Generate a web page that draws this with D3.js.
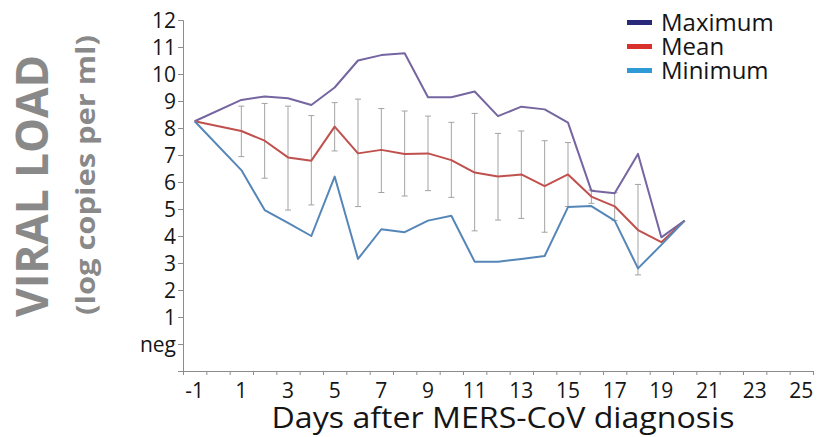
<!DOCTYPE html>
<html>
<head>
<meta charset="utf-8">
<script src="https://cdn.jsdelivr.net/npm/d3@7"></script>
<style>
  body { margin: 0; background: #fff; }
  text { font-family: "Open Sans", sans-serif; }
</style>
</head>
<body>
<svg class="chart"></svg>
<script>
// days after diagnosis (no measurement on day 0)
var days = [-1, 1, 2, 3, 4, 5, 6, 7, 8, 9, 10, 11, 12, 13, 14, 15, 16, 17, 18, 19, 20];
var maxValues  = [8.25, 9.04, 9.17, 9.1, 8.85, 9.5, 10.5, 10.7, 10.77, 9.14, 9.14, 9.35, 8.44, 8.79, 8.69, 8.2, 5.68, 5.58, 7.04, 3.95, 4.57];
var meanValues = [8.25, 7.89, 7.53, 6.91, 6.79, 8.05, 7.06, 7.19, 7.04, 7.06, 6.81, 6.35, 6.2, 6.28, 5.85, 6.28, 5.46, 5.1, 4.22, 3.77, 4.57];
var minValues  = [8.25, 6.44, 4.96, 4.49, 4.0, 6.2, 3.15, 4.25, 4.14, 4.57, 4.75, 3.05, 3.05, 3.15, 3.26, 5.07, 5.11, 4.57, 2.8, 3.67, 4.57];

// error bars (days 1-18)
var errDays = [1, 2, 3, 4, 5, 6, 7, 8, 9, 10, 11, 12, 13, 14, 15, 16, 17, 18];
var errHigh = [8.81, 8.91, 8.81, 8.46, 8.94, 9.07, 8.72, 8.63, 8.44, 8.21, 8.54, 7.8, 7.89, 7.53, 7.46, 5.7, 5.6, 5.91];
var errLow  = [6.94, 6.14, 4.96, 5.15, 7.15, 5.09, 5.61, 5.48, 5.68, 5.43, 4.19, 4.59, 4.65, 4.14, 5.09, 5.21, 4.57, 2.56];

var xTickLabels = [-1, 1, 3, 5, 7, 9, 11, 13, 15, 17, 19, 21, 23, 25];
var yTickLabels = ["neg", "1", "2", "3", "4", "5", "6", "7", "8", "9", "10", "11", "12"];
var seriesNames = ["Maximum", "Mean", "Minimum"];
var lineColors = ["#7565a0", "#c0504d", "#5586b8"];
var legendColors = ["#2a2878", "#d8302c", "#2f9ad8"];

var width = 817, height = 437;
var svg = d3.select(".chart").attr("width", width).attr("height", height);

var x = d3.scaleLinear().domain([-1.5, 25.5]).range([183, 813]);
var y = d3.scaleLinear().domain([-1, 12]).range([371, 20]);

var axisColor = "#8c8c8c";

// x axis (category boundaries as ticks)
var xAxis = svg.append("g").attr("transform", "translate(0," + y(-1) + ")")
  .call(d3.axisBottom(x).tickValues(d3.range(-1.5, 26, 1)).tickSize(4).tickFormat(""));
xAxis.select(".domain").attr("stroke", axisColor);
xAxis.selectAll(".tick line").attr("stroke", axisColor);

svg.append("g").selectAll("text")
  .data(xTickLabels)
  .enter().append("text")
  .attr("x", function(d) { return x(d); })
  .attr("y", y(-1) + 27)
  .style("text-anchor", "middle")
  .style("font-size", "21px")
  .attr("fill", "#151515")
  .text(function(d) { return d; });

// y axis
var yAxis = svg.append("g").attr("transform", "translate(" + x(-1.5) + ",0)")
  .call(d3.axisLeft(y).tickValues(d3.range(-1, 13)).tickSize(5).tickFormat(""));
yAxis.select(".domain").attr("stroke", axisColor);
yAxis.selectAll(".tick line").attr("stroke", axisColor);

svg.append("g").selectAll("text")
  .data(yTickLabels)
  .enter().append("text")
  .attr("x", 176)
  .attr("y", function(d, i) { return y(i); })
  .attr("dy", "0.36em")
  .style("text-anchor", "end")
  .style("font-size", "21px")
  .attr("fill", "#151515")
  .text(function(d) { return d; });

// axis titles
svg.append("text")
  .attr("transform", "translate(" + 48 + "," + 186 + ") rotate(-90)")
  .style("text-anchor", "middle")
  .style("font-size", "45px")
  .style("font-weight", "bold")
  .attr("fill", "#898989")
  .attr("textLength", 262)
  .attr("lengthAdjust", "spacingAndGlyphs")
  .text("VIRAL LOAD");

svg.append("text")
  .attr("transform", "translate(" + 95 + "," + 175 + ") rotate(-90)")
  .style("text-anchor", "middle")
  .style("font-size", "27px")
  .style("font-weight", "bold")
  .attr("fill", "#898989")
  .attr("textLength", 280)
  .attr("lengthAdjust", "spacingAndGlyphs")
  .text("(log copies per ml)");

svg.append("text")
  .attr("x", 503)
  .attr("y", 428)
  .style("text-anchor", "middle")
  .style("font-size", "29px")
  .attr("fill", "#151515")
  .attr("textLength", 463)
  .attr("lengthAdjust", "spacingAndGlyphs")
  .text("Days after MERS-CoV diagnosis");

// error bars
var bars = svg.append("g").selectAll("g")
  .data(errDays)
  .enter().append("g")
  .attr("stroke", "#a3a3a3")
  .attr("stroke-width", 1);
bars.append("line")
  .attr("x1", function(d) { return x(d); }).attr("x2", function(d) { return x(d); })
  .attr("y1", function(d, i) { return y(errHigh[i]); })
  .attr("y2", function(d, i) { return y(errLow[i]); });
bars.append("line")
  .attr("x1", function(d) { return x(d) - 3; }).attr("x2", function(d) { return x(d) + 3; })
  .attr("y1", function(d, i) { return y(errHigh[i]); })
  .attr("y2", function(d, i) { return y(errHigh[i]); });
bars.append("line")
  .attr("x1", function(d) { return x(d) - 3; }).attr("x2", function(d) { return x(d) + 3; })
  .attr("y1", function(d, i) { return y(errLow[i]); })
  .attr("y2", function(d, i) { return y(errLow[i]); });

// series lines
var valueLine = d3.line()
  .x(function(d) { return x(d[0]); })
  .y(function(d) { return y(d[1]); });

var allSeries = [maxValues, meanValues, minValues];
allSeries.forEach(function(vals, k) {
  svg.append("path")
    .datum(days.map(function(d, i) { return [d, vals[i]]; }))
    .attr("fill", "none")
    .attr("stroke", lineColors[k])
    .attr("stroke-width", 2)
    .attr("stroke-linejoin", "round")
    .attr("d", valueLine);
});

// legend
var legend = svg.append("g").selectAll("g")
  .data(seriesNames)
  .enter().append("g")
  .attr("transform", function(d, i) { return "translate(627," + (22.5 + i * 24) + ")"; });
legend.append("rect")
  .attr("x", 0).attr("y", -2.5)
  .attr("width", 25).attr("height", 5)
  .attr("fill", function(d, i) { return legendColors[i]; });
legend.append("text")
  .attr("x", 34)
  .attr("dy", "0.36em")
  .style("font-size", "24px")
  .attr("fill", "#151515")
  .text(function(d) { return d; });
</script>
</body>
</html>
